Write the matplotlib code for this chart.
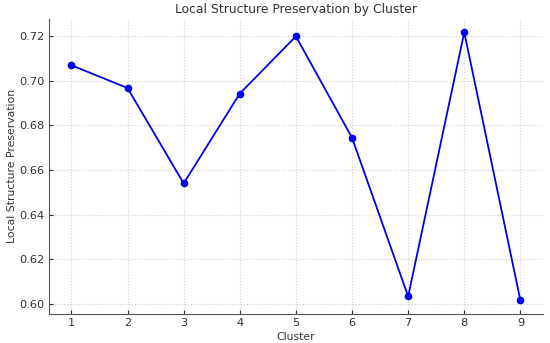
import matplotlib
matplotlib.use("Agg")
import matplotlib.pyplot as plt

clusters = [1, 2, 3, 4, 5, 6, 7, 8, 9]
preservation = [0.7070, 0.6968, 0.6540, 0.6943, 0.7200, 0.6745, 0.6033, 0.7218, 0.6015]

plt.rcParams["font.family"] = "DejaVu Sans"
text_color = "#333333"

fig = plt.figure(figsize=(5.5, 3.43), dpi=100)
ax = fig.add_axes([0.089, 0.085, 0.898, 0.86])

ax.plot(clusters, preservation, color="#0000f0", marker="o", markersize=4.5, linewidth=1.3)

ax.set_title("Local Structure Preservation by Cluster", fontsize=8.9, color=text_color, pad=4)
ax.set_xlabel("Cluster", fontsize=7.8, color=text_color, labelpad=3)
ax.set_ylabel("Local Structure Preservation", fontsize=7.8, color=text_color, labelpad=1.5)
ax.set_xticks(clusters)
ax.set_yticks([0.60, 0.62, 0.64, 0.66, 0.68, 0.70, 0.72])
ax.tick_params(direction="in", labelsize=8.2, colors=text_color, length=3, pad=3)
ax.grid(True, linestyle=":", color="#d0d0d0", linewidth=0.8)
for side in ("top", "right"):
    ax.spines[side].set_visible(False)
for side in ("left", "bottom"):
    ax.spines[side].set_color("#555555")

fig.savefig("out.png", dpi=100)
